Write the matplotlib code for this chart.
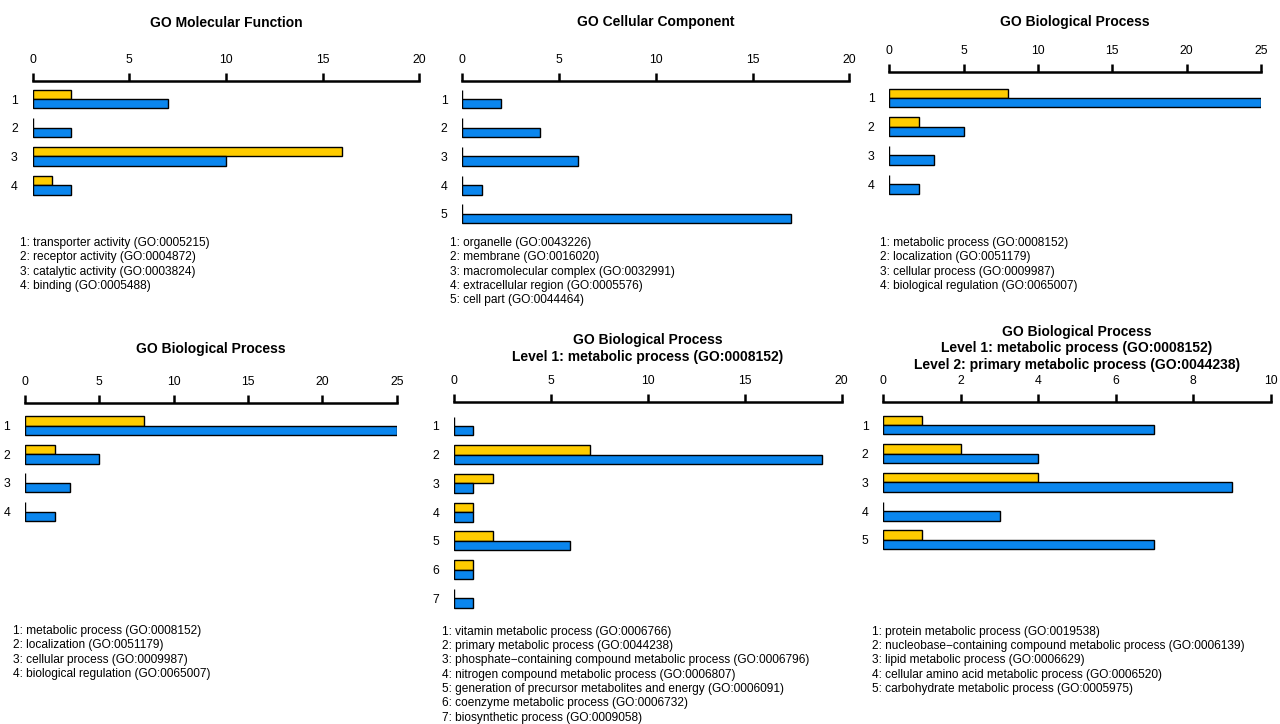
import matplotlib
matplotlib.use("Agg")
import matplotlib.pyplot as plt

plt.rcParams["font.family"] = ["Liberation Sans", "DejaVu Sans"]

# ---- data: gene counts per GO term (yellow = first set, blue = second set) ----
mf_terms = [
    "transporter activity (GO:0005215)",
    "receptor activity (GO:0004872)",
    "catalytic activity (GO:0003824)",
    "binding (GO:0005488)",
]
mf_yellow = [2, 0, 16, 1]
mf_blue = [7, 2, 10, 2]

cc_terms = [
    "organelle (GO:0043226)",
    "membrane (GO:0016020)",
    "macromolecular complex (GO:0032991)",
    "extracellular region (GO:0005576)",
    "cell part (GO:0044464)",
]
cc_yellow = [0, 0, 0, 0, 0]
cc_blue = [2, 4, 6, 1, 17]

bp_terms = [
    "metabolic process (GO:0008152)",
    "localization (GO:0051179)",
    "cellular process (GO:0009987)",
    "biological regulation (GO:0065007)",
]
bp_yellow = [8, 2, 0, 0]
bp_blue = [25, 5, 3, 2]

met_terms = [
    "vitamin metabolic process (GO:0006766)",
    "primary metabolic process (GO:0044238)",
    "phosphate\u2212containing compound metabolic process (GO:0006796)",
    "nitrogen compound metabolic process (GO:0006807)",
    "generation of precursor metabolites and energy (GO:0006091)",
    "coenzyme metabolic process (GO:0006732)",
    "biosynthetic process (GO:0009058)",
]
met_yellow = [0, 7, 2, 1, 2, 1, 0]
met_blue = [1, 19, 1, 1, 6, 1, 1]

prim_terms = [
    "protein metabolic process (GO:0019538)",
    "nucleobase\u2212containing compound metabolic process (GO:0006139)",
    "lipid metabolic process (GO:0006629)",
    "cellular amino acid metabolic process (GO:0006520)",
    "carbohydrate metabolic process (GO:0005975)",
]
prim_yellow = [1, 2, 4, 0, 1]
prim_blue = [7, 4, 9, 3, 7]

YELLOW = "#FFCC00"
BLUE = "#0A86EE"
W, H = 1280, 724
ROW = 28.7  # pixels between row centres

fig = plt.figure(figsize=(W / 100, H / 100), dpi=100)


def fx(px):
    return px / W


def fy(py):
    return 1 - py / H


def panel(x0, x1, axis_y, row1_y, title, title_y, yellow, blue, terms,
          xmax, step, legend_x, legend_y):
    n = len(blue)
    bottom_px = row1_y + (n - 1) * ROW + 16
    ax = fig.add_axes([fx(x0), fy(bottom_px), fx(x1 - x0), (bottom_px - axis_y) / H])
    rows = list(range(1, n + 1))
    h = 0.33
    ax.barh([r - h / 2 for r in rows], yellow, height=h, color=YELLOW,
            edgecolor="black", linewidth=1.0)
    ax.barh([r + h / 2 for r in rows], blue, height=h, color=BLUE,
            edgecolor="black", linewidth=1.0)
    ax.set_xlim(0, xmax)
    ax.set_ylim(n + 16 / ROW, 1 - (row1_y - axis_y) / ROW)
    ax.set_xticks(list(range(0, xmax + 1, step)))
    ax.set_yticks(rows)
    ax.set_yticklabels([str(r) for r in rows])
    ax.xaxis.tick_top()
    for s in ["bottom", "left", "right"]:
        ax.spines[s].set_visible(False)
    ax.spines["top"].set_linewidth(1.8)
    ax.tick_params(axis="x", direction="out", length=6, width=1.8,
                   labelsize=8.8, pad=5)
    # row numbers centred about 18 px left of the zero line
    ax.tick_params(axis="y", length=0, labelsize=8.8, pad=13)
    for tl in ax.get_yticklabels():
        tl.set_horizontalalignment("center")
    for k, t in enumerate(title):
        fig.text(fx((x0 + x1) / 2), fy(title_y + k * 16.5), t, ha="center",
                 va="center", fontsize=10, fontweight="bold")
    for i, t in enumerate(terms):
        fig.text(fx(legend_x), fy(legend_y + i * 14.25), f"{i + 1}: {t}",
                 ha="left", va="center", fontsize=8.6)


panel(32.5, 419.3, 81, 99, ["GO Molecular Function"], 23,
      mf_yellow, mf_blue, mf_terms, 20, 5, 20, 243)
panel(462.3, 849.3, 81, 99, ["GO Cellular Component"], 22,
      cc_yellow, cc_blue, cc_terms, 20, 5, 450, 243)
panel(889.3, 1261, 72, 98, ["GO Biological Process"], 22,
      bp_yellow, bp_blue, bp_terms, 25, 5, 880, 243)
panel(25, 396.7, 403, 425.5, ["GO Biological Process"], 349,
      bp_yellow, bp_blue, bp_terms, 25, 5, 13, 631)
panel(454, 841.7, 402, 426, ["GO Biological Process",
                             "Level 1: metabolic process (GO:0008152)"], 340,
      met_yellow, met_blue, met_terms, 20, 5, 442, 632)
panel(883.3, 1270.7, 402, 425, ["GO Biological Process",
                                "Level 1: metabolic process (GO:0008152)",
                                "Level 2: primary metabolic process (GO:0044238)"], 332,
      prim_yellow, prim_blue, prim_terms, 10, 2, 872, 632)

fig.savefig("out.png", dpi=100)
